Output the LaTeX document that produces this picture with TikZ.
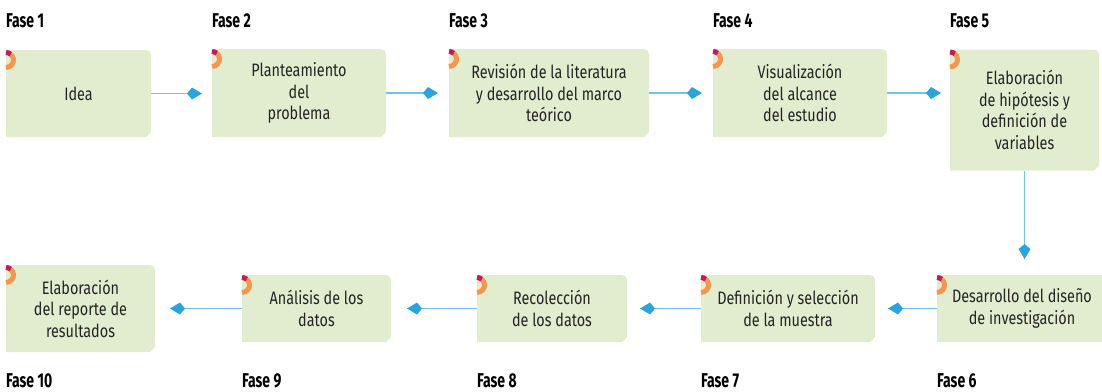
\documentclass[tikz,border=0pt]{standalone}
\usepackage{fontspec}
\setmainfont{Fira Sans}[FakeStretch=0.8]
\newfontfamily\fasefont{Fira Sans}[FakeStretch=0.7]
\usetikzlibrary{arrows.meta}
\definecolor{boxgreen}{RGB}{226,237,208}
\definecolor{ringorange}{RGB}{246,150,76}
\definecolor{ringred}{RGB}{200,24,90}
\definecolor{lineblue}{RGB}{110,196,234}
\definecolor{tipblue}{RGB}{40,164,222}
\definecolor{txt}{RGB}{35,35,35}
\pgfdeclarelayer{background}
\pgfsetlayers{background,main}
\tikzset{
  phase/.style={inner sep=0pt, outer sep=0pt, align=center, text=txt,
    font=\fontsize{18}{21.5}\selectfont},
  faselbl/.style={anchor=base west, inner sep=0pt, text=black,
    font=\fasefont\bfseries\fontsize{20}{22}\selectfont},
  conn/.style={draw=lineblue, line width=1.8pt,
    -{Kite[length=15pt,width=12pt,inset=5pt,color=tipblue,fill=tipblue]}}
}
\begin{document}
\begin{tikzpicture}[x=1pt,y=-1pt]
\useasboundingbox (0,0) rectangle (1102,391);
% boxes (centre, width, height)
\node[phase, minimum width=145pt, minimum height=87pt] (p1) at (78.5,93.5) {Idea};
\node[phase, minimum width=174pt, minimum height=88pt] (p2) at (299,93) {Planteamiento\\del\\problema};
\node[phase, minimum width=200pt, minimum height=88pt] (p3) at (549,93) {Revisión de la literatura\\y desarrollo del marco\\teórico};
\node[phase, minimum width=174pt, minimum height=88pt] (p4) at (800,93) {Visualización\\del alcance\\del estudio};
\node[phase, minimum width=149pt, minimum height=121pt] (p5) at (1024.5,110) {Elaboración\\de hipótesis y\\definición de\\variables};
\node[phase, minimum width=170pt, minimum height=67pt] (p6) at (1022,308.5) {Desarrollo del diseño\\de investigación};
\node[phase, minimum width=174pt, minimum height=67pt] (p7) at (788,308.5) {Definición y selección\\de la muestra};
\node[phase, minimum width=150pt, minimum height=67pt] (p8) at (552,308.5) {Recolección\\de los datos};
\node[phase, minimum width=149pt, minimum height=67pt] (p9) at (316.5,308.5) {Análisis de los\\datos};
\node[phase, minimum width=149pt, minimum height=87pt] (p10) at (80.5,308.5) {Elaboración\\del reporte de\\resultados};
% labels
\node[faselbl] (f1) at (6,27) {Fase 1};
\node[faselbl] (f2) at (212,27) {Fase 2};
\node[faselbl] (f3) at (449,27) {Fase 3};
\node[faselbl] (f4) at (713,27) {Fase 4};
\node[faselbl] (f5) at (950,27) {Fase 5};
\node[faselbl] (f10) at (6,387) {Fase 10};
\node[faselbl] (f9) at (242,387) {Fase 9};
\node[faselbl] (f8) at (477,387) {Fase 8};
\node[faselbl] (f7) at (701,387) {Fase 7};
\node[faselbl] (f6) at (937,387) {Fase 6};
% box backgrounds
\begin{pgfonlayer}{background}
\foreach \n in {p1,p2,p3,p4,p5,p6,p7,p8,p9,p10}{
  \fill[boxgreen] (\n.south west) -- (\n.north west) -- ([xshift=-5pt]\n.north east)
    arc[start angle=90,end angle=0,radius=5pt] -- ([yshift=5pt]\n.south east)
    -- ([xshift=-5pt]\n.south east) -- cycle;
  \draw[ringorange, line width=5pt] ([yshift=-10pt]\n.north west) ++(50:7.5pt)
    arc[start angle=50,end angle=-90,radius=7.5pt];
  \draw[ringred, line width=5pt] ([yshift=-10pt]\n.north west) ++(90:7.5pt)
    arc[start angle=90,end angle=50,radius=7.5pt];
}
\end{pgfonlayer}
% connectors
\draw[conn, shorten >=10pt] (p1.east) -- (p1.east -| p2.west);
\draw[conn, shorten >=11pt] (p2.east) -- (p3.west);
\draw[conn, shorten >=11pt] (p3.east) -- (p4.west);
\draw[conn, shorten >=9pt] (p4.east) -- (p5.west |- p4.east);
\draw[conn, shorten >=16pt] (p5.south) -- (p5.south |- p6.north);
\draw[conn, shorten >=13pt] (p6.west) -- (p7.east);
\draw[conn, shorten >=13pt] (p7.west) -- (p8.east);
\draw[conn, shorten >=16pt] (p8.west) -- (p9.east);
\draw[conn, shorten >=15pt] (p9.west) -- (p10.east);
\end{tikzpicture}
\end{document}
